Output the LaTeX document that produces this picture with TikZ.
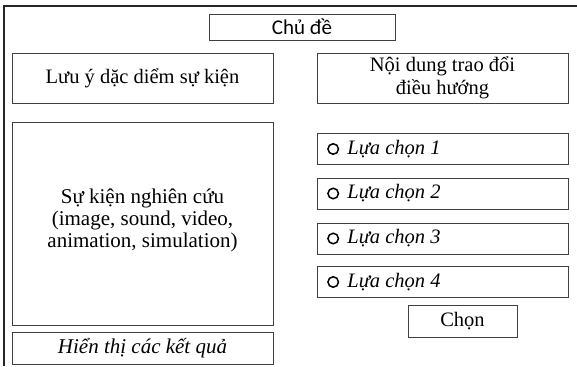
\documentclass[tikz,border=0pt]{standalone}
\usepackage{fontspec}
\setmainfont{Liberation Serif}
\newfontfamily\calib{Carlito}
\begin{document}
\begin{tikzpicture}[x=1pt,y=-1pt,
  frameline/.style={line width=1.4pt, black!85},
  box/.style={draw=black!75, line width=0.6pt, inner sep=0pt, align=center,
    font=\fontsize{20.5}{22.5}\selectfont},
  optbox/.style={box, minimum width=251pt, minimum height=31pt},
  optlabel/.style={anchor=west, inner sep=0pt, font=\fontsize{20.5}{22}\selectfont\itshape},
  radio/.style={circle, draw=black, line width=1.5pt, minimum size=10.5pt, inner sep=0pt}]
\useasboundingbox (0,0) rectangle (577,366);
% outer frame (top and left edges)
\coordinate (ftl) at (4,6);
\coordinate (ftr) at (577,6);
\coordinate (fbl) at (4,366);
\draw[frameline] (ftr) -- (ftl) -- (fbl);
% boxes
\node[box, minimum width=186pt, minimum height=26pt, font=\calib\fontsize{21}{22}\selectfont] (topic) at (302,27) {Chủ đề};
\node[box, minimum width=261pt, minimum height=50pt] (note) at (142.5,78) {Lưu ý dặc diểm sự kiện};
\node[box, minimum width=251pt, minimum height=50pt] (content) at (442.5,78) {Nội dung trao đổi\\điều hướng};
\node[box, minimum width=261pt, minimum height=203pt] (event) at (142.5,223.5) {};
\node[align=center, inner sep=0pt, font=\fontsize{21}{22}\selectfont] (eventtext) at (142.5,220) {Sự kiện nghiên cứu\\(image, sound, video,\\animation, simulation)};
\node[box, minimum width=261pt, minimum height=32pt, font=\fontsize{21}{22}\selectfont\itshape] (result) at (142.5,348) {Hiển thị các kết quả};
% options
\node[optbox] (opt1) at (442.5,149) {};
\node[optbox] (opt2) at (442.5,193.5) {};
\node[optbox] (opt3) at (442.5,238.5) {};
\node[optbox] (opt4) at (442.5,282) {};
\foreach \i in {1,2,3,4}{
  \node[radio] (r\i) at ([xshift=16.5pt]opt\i.west) {};
  \node[optlabel] (l\i) at ([xshift=8pt]r\i.east) {Lựa chọn \i};
}
\node[box, minimum width=109pt, minimum height=32pt] (choose) at (462.5,321) {Chọn};
\end{tikzpicture}
\end{document}
